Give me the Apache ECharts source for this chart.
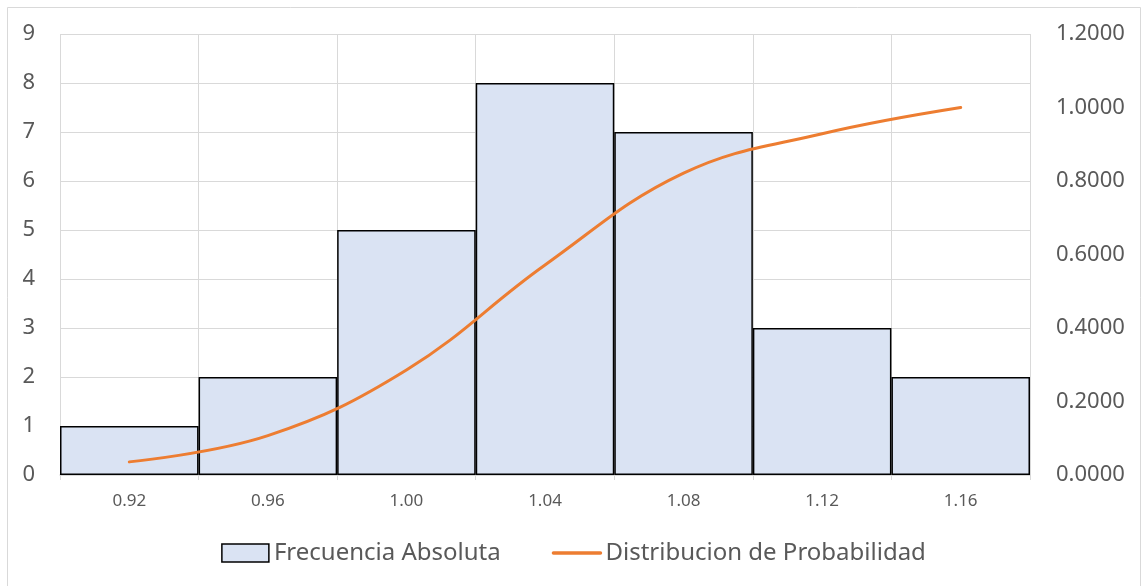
<!DOCTYPE html>
<html>
<head>
<meta charset="utf-8">
<script src="https://cdn.jsdelivr.net/npm/echarts@6/dist/echarts.min.js"></script>
<style>
  html, body { margin: 0; padding: 0; background: #fff; }
  #chart { width: 1147px; height: 586px; }
</style>
</head>
<body>
<div id="chart"></div>
<script>
// Class marks of the histogram
const categories = ['0.92', '0.96', '1.00', '1.04', '1.08', '1.12', '1.16'];
// Absolute frequency per class
const frecuenciaAbsoluta = [1, 2, 5, 8, 7, 3, 2];
// Cumulative probability per class
const distribucionProbabilidad = [0.0357, 0.1071, 0.2857, 0.5714, 0.8214, 0.9286, 1.0000];

const textColor = '#595959';
const gridColor = '#D9D9D9';
const font = 'Noto Sans';

const chart = echarts.init(document.getElementById('chart'), null, { renderer: 'canvas' });

chart.setOption({
  animation: false,
  backgroundColor: '#fff',
  graphic: [{
    type: 'rect',
    shape: { x: 7.5, y: 7.5, width: 1133, height: 600 },
    style: { fill: 'none', stroke: gridColor, lineWidth: 1 },
    silent: true
  }],
  grid: { left: 60, right: 117, top: 34, bottom: 111, containLabel: false },
  legend: {
    top: 536,
    left: 'center',
    itemWidth: 47,
    itemHeight: 18,
    itemGap: 51,
    textStyle: { color: textColor, fontSize: 24, fontFamily: font },
    data: [
      { name: 'Frecuencia Absoluta', icon: 'rect',
        itemStyle: { color: '#DAE3F3', borderColor: '#000', borderWidth: 1.5 } },
      // plain line key, no marker on it
      { name: 'Distribucion de Probabilidad', itemStyle: { opacity: 0 },
        lineStyle: { color: '#ED7D31', width: 3.5 } }
    ]
  },
  xAxis: {
    type: 'category',
    data: categories,
    boundaryGap: true,
    axisLine: { lineStyle: { color: gridColor, width: 1.5 } },
    axisTick: { show: true, length: 5, lineStyle: { color: gridColor } },
    axisLabel: { color: textColor, fontSize: 17, fontFamily: font, margin: 18 },
    splitLine: { show: true, lineStyle: { color: gridColor, width: 1 } }
  },
  yAxis: [{
    type: 'value',
    min: 0, max: 9, interval: 1,
    axisLine: { show: false },
    axisTick: { show: false },
    axisLabel: { color: textColor, fontSize: 22, fontFamily: font, margin: 25 },
    splitLine: { show: true, lineStyle: { color: gridColor, width: 1 } }
  }, {
    type: 'value',
    min: 0, max: 1.2, interval: 0.2,
    position: 'right',
    axisLine: { show: false },
    axisTick: { show: false },
    axisLabel: {
      color: textColor, fontSize: 22, fontFamily: font, margin: 26,
      formatter: v => v.toFixed(4)
    },
    splitLine: { show: false }
  }],
  series: [{
    name: 'Frecuencia Absoluta',
    type: 'bar',
    data: frecuenciaAbsoluta,
    barWidth: '100%',
    barCategoryGap: 0,
    itemStyle: { color: '#DAE3F3', borderColor: '#000', borderWidth: 1.5 },
    z: 2
  }, {
    name: 'Distribucion de Probabilidad',
    type: 'line',
    yAxisIndex: 1,
    data: distribucionProbabilidad,
    smooth: 0.4,
    symbol: 'none',
    lineStyle: { color: '#ED7D31', width: 3, cap: 'round' },
    itemStyle: { color: '#ED7D31' },
    z: 3
  }]
});
</script>
</body>
</html>
